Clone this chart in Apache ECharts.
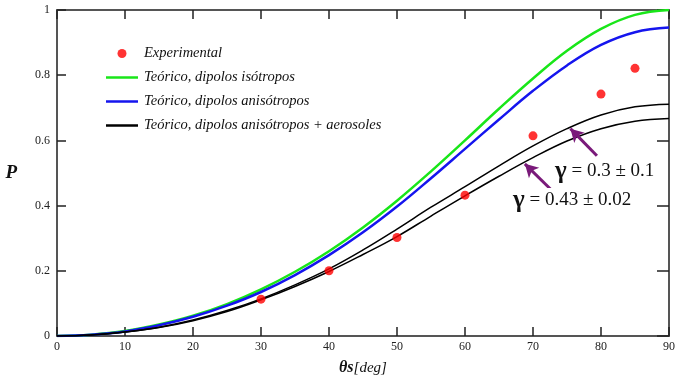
<!DOCTYPE html>
<html>
<head>
<meta charset="utf-8">
<script src="https://cdn.jsdelivr.net/npm/echarts@6/dist/echarts.min.js"></script>
<style>
  html, body { margin: 0; padding: 0; background: #fff; }
  #chart { width: 681px; height: 381px; }
</style>
</head>
<body>
<div id="chart"></div>
<script>
// scattering angle (deg) for the theoretical curves
const angles = [0, 5, 10, 15, 20, 25, 30, 35, 40, 45, 50, 55, 60, 65, 70, 75, 80, 85, 90];
const isotropic = [0, 0.004, 0.015, 0.035, 0.062, 0.098, 0.143, 0.197, 0.260, 0.333, 0.415, 0.505, 0.600, 0.697, 0.790, 0.875, 0.942, 0.985, 1.0];
const anisotropic = [0, 0.004, 0.014, 0.033, 0.059, 0.093, 0.135, 0.187, 0.248, 0.318, 0.397, 0.484, 0.574, 0.664, 0.752, 0.830, 0.893, 0.932, 0.946];
const aerosolUpper = [0, 0.003, 0.012, 0.027, 0.049, 0.078, 0.114, 0.157, 0.206, 0.264, 0.328, 0.395, 0.458, 0.522, 0.583, 0.636, 0.678, 0.703, 0.711];
const aerosolLower = [0, 0.003, 0.012, 0.026, 0.047, 0.075, 0.111, 0.152, 0.198, 0.250, 0.305, 0.368, 0.430, 0.490, 0.547, 0.598, 0.636, 0.659, 0.667];

// measured points
const expAngles = [30, 40, 50, 60, 70, 80, 85];
const expP = [0.113, 0.200, 0.302, 0.432, 0.614, 0.742, 0.821];

const names = [
  'Experimental',
  'Teórico, dipolos isótropos',
  'Teórico, dipolos anisótropos',
  'Teórico, dipolos anisótropos + aerosoles'
];

const serif = '"Liberation Serif", "DejaVu Serif", serif';
const frame = '#555';
const lineIcon = 'path://M0,0 L32,0 L32,2.5 L0,2.5 Z';

const pairs = (xs, ys) => xs.map((x, i) => [x, ys[i]]);

function curve(name, ys, color, width, extra) {
  return Object.assign({
    name: name,
    type: 'line',
    data: pairs(angles, ys),
    smooth: 0.4,
    symbol: 'none',
    lineStyle: {color: color, width: width},
    itemStyle: {color: color},
    z: 3
  }, extra || {});
}

const chart = echarts.init(document.getElementById('chart'));

const axisBase = {
  type: 'value',
  axisLine: {show: true, onZero: false, lineStyle: {color: frame, width: 2}},
  axisTick: {show: true, inside: true, length: 9, lineStyle: {color: '#222', width: 1.5}},
  splitLine: {show: false}
};

chart.setOption({
  animation: false,
  backgroundColor: '#fff',
  grid: {left: 57, right: 12, top: 10, bottom: 43},
  legend: {
    data: [
      {name: names[0], icon: 'circle'},
      {name: names[1], icon: lineIcon},
      {name: names[2], icon: lineIcon},
      {name: names[3], icon: lineIcon}
    ],
    orient: 'vertical',
    left: 101,
    top: 41,
    itemWidth: 32,
    itemHeight: 9,
    itemGap: 9,
    symbolKeepAspect: true,
    selectedMode: false,
    textStyle: {fontFamily: serif, fontStyle: 'italic', fontSize: 14.5, color: '#111', lineHeight: 15, padding: [0, 0, 0, 1]}
  },
  xAxis: [
    Object.assign({}, axisBase, {
      min: 0, max: 90, interval: 10,
      axisLabel: {fontFamily: serif, fontSize: 12, color: '#222', margin: 5},
      name: '{b|θs}{i|[deg]}',
      nameLocation: 'middle',
      nameGap: 24,
      nameTextStyle: {
        rich: {
          b: {fontFamily: serif, fontStyle: 'italic', fontWeight: 'bold', fontSize: 16, color: '#111'},
          i: {fontFamily: serif, fontStyle: 'italic', fontSize: 15, color: '#111'}
        }
      }
    }),
    Object.assign({}, axisBase, {
      position: 'top', min: 0, max: 90, interval: 10,
      axisLabel: {show: false}
    })
  ],
  yAxis: [
    Object.assign({}, axisBase, {
      min: 0, max: 1, interval: 0.2,
      axisLabel: {fontFamily: serif, fontSize: 12, color: '#222', margin: 7},
      name: 'P',
      nameLocation: 'middle',
      nameRotate: 0,
      nameGap: 40,
      nameTextStyle: {fontFamily: serif, fontStyle: 'italic', fontWeight: 'bold', fontSize: 19, color: '#111'}
    }),
    Object.assign({}, axisBase, {
      position: 'right', min: 0, max: 1, interval: 0.2,
      axisTick: {show: true, inside: true, length: 12, lineStyle: {color: '#222', width: 1.5}},
      axisLabel: {show: false}
    })
  ],
  series: [
    {
      name: names[0],
      type: 'scatter',
      data: pairs(expAngles, expP),
      symbol: 'circle',
      symbolSize: 9,
      itemStyle: {color: '#ff0000'},
      z: 5
    },
    curve(names[1], isotropic, '#19e619', 2.5),
    curve(names[2], anisotropic, '#1515ee', 2.5),
    curve(names[3], aerosolUpper, '#000', 1.5, {
      markLine: {
        silent: true,
        symbol: ['none', 'arrow'],
        symbolSize: [11, 13],
        lineStyle: {color: '#7a1a7a', width: 3, type: 'solid'},
        label: {show: false},
        data: [
          [{coord: [79.4, 0.553]}, {coord: [75.5, 0.636]}],
          [{coord: [72.6, 0.450]}, {coord: [68.8, 0.528]}]
        ]
      }
    }),
    curve(names[3], aerosolLower, '#000', 1.5)
  ],
  graphic: [
    {
      type: 'text', left: 555, top: 159, z: 10,
      style: {
        text: '{g|γ} = 0.3 ± 0.1',
        fill: '#111',
        font: '19px ' + serif,
        rich: {g: {fontFamily: serif, fontSize: 25, fontWeight: 'bold', fill: '#111'}}
      }
    },
    {
      type: 'text', left: 513, top: 188, z: 10,
      style: {
        text: '{g|γ} = 0.43 ± 0.02',
        fill: '#111',
        font: '19px ' + serif,
        backgroundColor: '#fff',
        rich: {g: {fontFamily: serif, fontSize: 25, fontWeight: 'bold', fill: '#111'}}
      }
    }
  ]
});
</script>
</body>
</html>
